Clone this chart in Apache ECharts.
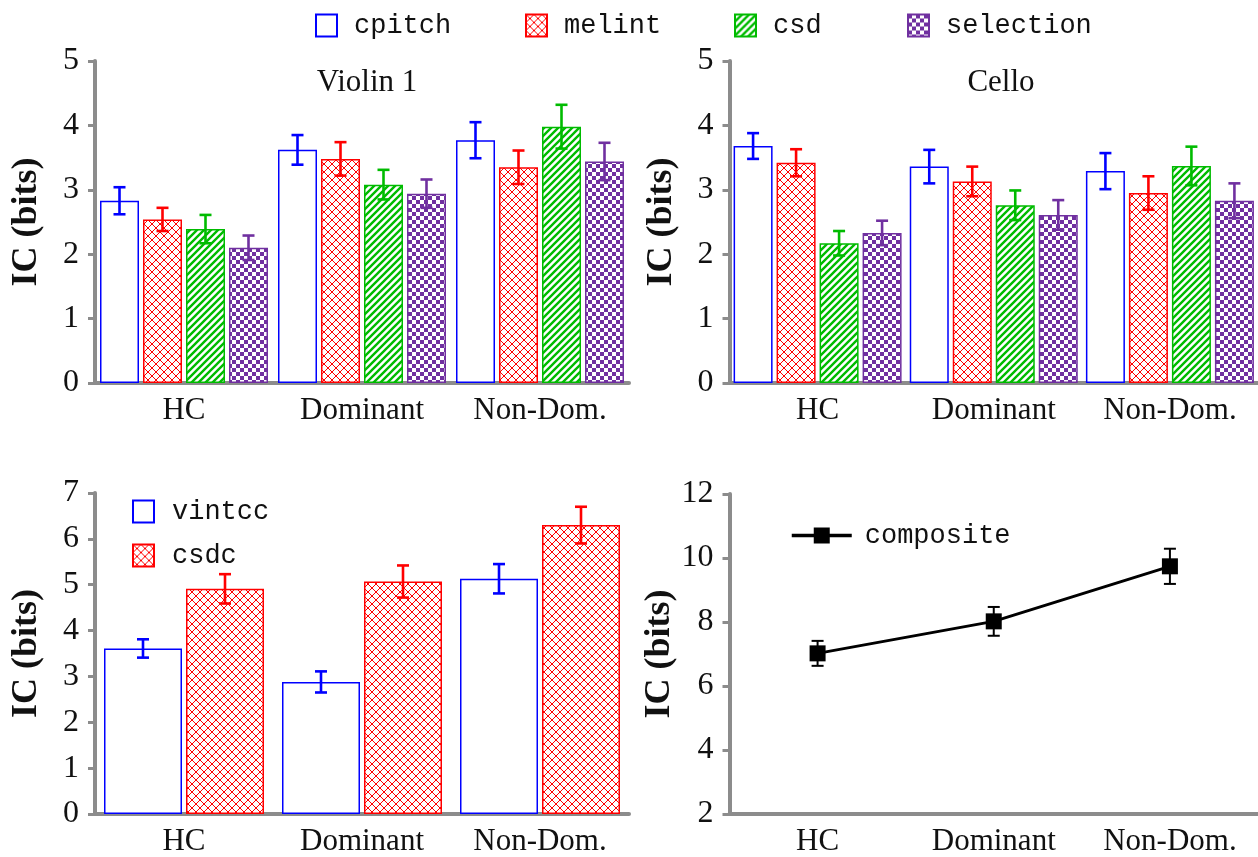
<!DOCTYPE html>
<html>
<head>
<meta charset="utf-8">
<script src="https://cdn.jsdelivr.net/npm/echarts@6/dist/echarts.min.js"></script>
<style>
  html, body { margin: 0; padding: 0; background: #fff; }
  #main { width: 1258px; height: 857px; }
</style>
</head>
<body>
<div id="main"></div>
<script>
// --- data ---
const categories = ['HC', 'Dominant', 'Non-Dom.']
const topSeriesNames = ['cpitch', 'melint', 'csd', 'selection']

const violinMeans = [
  [2.83, 3.62, 3.77],
  [2.54, 3.48, 3.35],
  [2.39, 3.08, 3.98],
  [2.10, 2.94, 3.44]
]
const violinErrs = [
  [0.21, 0.23, 0.28],
  [0.18, 0.26, 0.26],
  [0.22, 0.23, 0.34],
  [0.19, 0.22, 0.29]
]
const celloMeans = [
  [3.68, 3.36, 3.29],
  [3.42, 3.13, 2.95],
  [2.17, 2.76, 3.37],
  [2.33, 2.61, 2.83]
]
const celloErrs = [
  [0.20, 0.26, 0.28],
  [0.21, 0.23, 0.26],
  [0.19, 0.23, 0.30],
  [0.19, 0.23, 0.27]
]
const vintccMeans = [3.61, 2.88, 5.13]
const vintccErrs = [0.20, 0.23, 0.32]
const csdcMeans = [4.91, 5.07, 6.30]
const csdcErrs = [0.32, 0.35, 0.40]
const compositeMeans = [7.02, 8.02, 9.74]
const compositeErrs = [0.39, 0.45, 0.55]

// --- styles ---
const SERIF = '"Liberation Serif", "Times New Roman", serif'
const MONO = '"Liberation Mono", "DejaVu Sans Mono", monospace'
const AXIS_GRAY = '#8c8c8c'
const BLUE = '#0000ff', RED = '#ff0000', GREEN = '#00bb00', PURPLE = '#7030a0'

const tile = (size, draw) => {
  const c = document.createElement('canvas')
  c.width = size
  c.height = size
  const ctx = c.getContext('2d')
  ctx.fillStyle = '#fff'
  ctx.fillRect(0, 0, size, size)
  draw(ctx, size)
  return { image: c, repeat: 'repeat' }
}
const patterns = {
  plain: '#ffffff',
  cross: tile(8, (ctx, s) => {
    ctx.strokeStyle = RED
    ctx.lineWidth = 1
    ctx.beginPath()
    ctx.moveTo(0, 0); ctx.lineTo(s, s)
    ctx.moveTo(s, 0); ctx.lineTo(0, s)
    ctx.stroke()
    ctx.fillStyle = RED
    ctx.fillRect(s / 2 - 1, s / 2 - 1, 2, 2)
  }),
  stripes: tile(7, (ctx, s) => {
    ctx.strokeStyle = GREEN
    ctx.lineWidth = 2.4
    ctx.beginPath()
    ctx.moveTo(0, s); ctx.lineTo(s, 0)
    ctx.moveTo(-2, 2); ctx.lineTo(2, -2)
    ctx.moveTo(s - 2, s + 2); ctx.lineTo(s + 2, s - 2)
    ctx.stroke()
  }),
  checker: tile(8, (ctx, s) => {
    ctx.fillStyle = PURPLE
    ctx.fillRect(0, 0, s / 2, s / 2)
    ctx.fillRect(s / 2, s / 2, s / 2, s / 2)
  })
}
const topLooks = [
  { fill: patterns.plain, edge: BLUE },
  { fill: patterns.cross, edge: RED },
  { fill: patterns.stripes, edge: GREEN },
  { fill: patterns.checker, edge: PURPLE }
]

const TOP_BAR_W = 39, TOP_GAP = 4
const LOW_BAR_W = 78, LOW_GAP = 4

const offsetsFor = (n, w, gap) =>
  Array.from({ length: n }, (_, i) => (i - (n - 1) / 2) * (w + gap))

const errorSeries = (name, idx, means, errs, color, offset, capW, lw) => ({
  type: 'custom',
  name: name,
  xAxisIndex: idx,
  yAxisIndex: idx,
  z: 5,
  silent: true,
  data: means.map((m, i) => [i, m, errs[i]]),
  renderItem: (params, api) => {
    const i = api.value(0), m = api.value(1), e = api.value(2)
    const hi = api.coord([i, m + e])
    const lo = api.coord([i, m - e])
    const x = hi[0] + offset
    const style = { stroke: color, lineWidth: lw }
    return {
      type: 'group',
      children: [
        { type: 'line', shape: { x1: x, y1: hi[1], x2: x, y2: lo[1] }, style },
        { type: 'line', shape: { x1: x - capW / 2, y1: hi[1], x2: x + capW / 2, y2: hi[1] }, style },
        { type: 'line', shape: { x1: x - capW / 2, y1: lo[1], x2: x + capW / 2, y2: lo[1] }, style }
      ]
    }
  }
})

const grids = [
  { left: 95, top: 61, width: 534, height: 322 },
  { left: 729.5, top: 61, width: 534, height: 322 },
  { left: 95, top: 493, width: 534, height: 323 },
  { left: 729.5, top: 494, width: 534, height: 321 }
]

const xAxes = grids.map((g, i) => ({
  type: 'category',
  gridIndex: i,
  data: categories,
  axisLine: { lineStyle: { color: AXIS_GRAY, width: 4 } },
  axisTick: { length: 7, lineStyle: { color: AXIS_GRAY, width: 3 } },
  axisLabel: { color: '#111', fontFamily: SERIF, fontSize: 31, margin: 12 },
  splitLine: { show: false }
}))

const yRanges = [[0, 5, 1], [0, 5, 1], [0, 7, 1], [2, 12, 2]]
const yAxes = yRanges.map((r, i) => ({
  type: 'value',
  gridIndex: i,
  min: r[0],
  max: r[1],
  interval: r[2],
  name: 'IC (bits)',
  nameLocation: 'middle',
  nameGap: 50,
  nameRotate: 90,
  nameTextStyle: { color: '#111', fontFamily: SERIF, fontWeight: 'bold', fontSize: 36 },
  axisLine: { show: true, lineStyle: { color: AXIS_GRAY, width: 4 } },
  axisTick: { show: true, length: 7, lineStyle: { color: AXIS_GRAY, width: 3 } },
  axisLabel: { color: '#111', fontFamily: SERIF, fontSize: 32, margin: 16 },
  splitLine: { show: false }
}))

const series = []
const topOffsets = offsetsFor(4, TOP_BAR_W, TOP_GAP)
;[[violinMeans, violinErrs], [celloMeans, celloErrs]].forEach(([means, errs], gi) => {
  topSeriesNames.forEach((name, si) => {
    series.push({
      type: 'bar',
      name: name,
      xAxisIndex: gi,
      yAxisIndex: gi,
      barWidth: TOP_BAR_W,
      barGap: (TOP_GAP / TOP_BAR_W * 100) + '%',
      itemStyle: { color: topLooks[si].fill, borderColor: topLooks[si].edge, borderWidth: 1.5 },
      data: means[si]
    })
  })
  topSeriesNames.forEach((name, si) => {
    series.push(errorSeries(name + '-err', gi, means[si], errs[si], topLooks[si].edge, topOffsets[si], 12, 2.6))
  })
})

const lowOffsets = offsetsFor(2, LOW_BAR_W, LOW_GAP)
series.push({
  type: 'bar', name: 'vintcc', xAxisIndex: 2, yAxisIndex: 2,
  barWidth: LOW_BAR_W, barGap: (LOW_GAP / LOW_BAR_W * 100) + '%',
  itemStyle: { color: '#fff', borderColor: BLUE, borderWidth: 1.5 },
  data: vintccMeans
})
series.push({
  type: 'bar', name: 'csdc', xAxisIndex: 2, yAxisIndex: 2,
  barWidth: LOW_BAR_W, barGap: (LOW_GAP / LOW_BAR_W * 100) + '%',
  itemStyle: { color: patterns.cross, borderColor: RED, borderWidth: 1.5 },
  data: csdcMeans
})
series.push(errorSeries('vintcc-err', 2, vintccMeans, vintccErrs, BLUE, lowOffsets[0], 12, 2.6))
series.push(errorSeries('csdc-err', 2, csdcMeans, csdcErrs, RED, lowOffsets[1], 12, 2.6))

series.push({
  type: 'line', name: 'composite', xAxisIndex: 3, yAxisIndex: 3,
  symbol: 'rect', symbolSize: 16,
  itemStyle: { color: '#000' },
  lineStyle: { color: '#000', width: 3 },
  data: compositeMeans
})
series.push(errorSeries('composite-err', 3, compositeMeans, compositeErrs, '#000', 0, 12, 2))

const legendText = { color: '#111', fontFamily: MONO, fontSize: 27 }
const topLegendLefts = [310, 520, 729, 902]
const legends = topSeriesNames.map((name, i) => ({
  data: [name],
  left: topLegendLefts[i],
  top: 7,
  selectedMode: false,
  icon: 'rect',
  itemWidth: 21,
  itemHeight: 22,
  itemStyle: { borderWidth: 2 },
  textStyle: Object.assign({ padding: [0, 0, 0, 12] }, legendText)
}))
legends.push({
  data: ['vintcc', 'csdc'],
  orient: 'vertical',
  left: 127,
  top: 493,
  itemGap: 17,
  selectedMode: false,
  icon: 'rect',
  itemWidth: 21,
  itemHeight: 22,
  itemStyle: { borderWidth: 2 },
  textStyle: Object.assign({ padding: [0, 0, 0, 13] }, legendText)
})
legends.push({
  data: ['composite'],
  left: 785,
  top: 517,
  selectedMode: false,
  itemWidth: 60,
  itemHeight: 20,
  lineStyle: { width: 3.5 },
  textStyle: Object.assign({ padding: [0, 0, 0, 8] }, legendText)
})

const chart = echarts.init(document.getElementById('main'))
chart.setOption({
  animation: false,
  backgroundColor: '#fff',
  title: [
    { text: 'Violin 1', left: 362, top: 62, textAlign: 'center',
      textStyle: { color: '#111', fontFamily: SERIF, fontWeight: 'normal', fontSize: 31 } },
    { text: 'Cello', left: 996, top: 62, textAlign: 'center',
      textStyle: { color: '#111', fontFamily: SERIF, fontWeight: 'normal', fontSize: 31 } }
  ],
  legend: legends,
  grid: grids,
  xAxis: xAxes,
  yAxis: yAxes,
  series: series
})
</script>
</body>
</html>
